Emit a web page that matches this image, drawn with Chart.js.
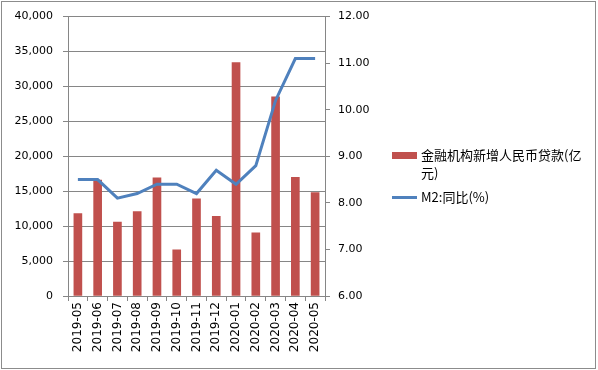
<!DOCTYPE html>
<html>
<head>
<meta charset="utf-8">
<script src="https://cdn.jsdelivr.net/npm/chart.js@4"></script>
<style>
    body { margin: 0; background: #fff; }
    #wrap { position: relative; width: 598px; height: 370px; }
    #frame { position: absolute; left: 1px; top: 1px; width: 593px; height: 366px; border: 1px solid #8c8c8c; pointer-events: none; }
    #legend { position: absolute; left: 392px; top: 146px; font-family: "Noto Sans CJK SC", sans-serif; font-size: 13px; color: #000; }
    .item { display: flex; align-items: flex-start; margin-bottom: 6px; }
    .swatch { width: 25px; flex: none; margin-right: 4px; }
    .txt { width: 165px; line-height: 18px; }
</style>
</head>
<body>
<div id="wrap">
    <canvas id="chart" width="598" height="370"></canvas>
    <div id="frame"></div>
    <div id="legend"></div>
</div>
<script>
const months = ['2019-05', '2019-06', '2019-07', '2019-08', '2019-09', '2019-10', '2019-11',
    '2019-12', '2020-01', '2020-02', '2020-03', '2020-04', '2020-05'];
const loanLabel = '金融机构新增人民币贷款(亿元)';
const loans = [11800, 16600, 10600, 12100, 16900, 6613, 13900, 11400, 33400, 9057, 28500, 17000, 14800];
const m2Label = 'M2:同比(%)';
const m2 = [8.5, 8.5, 8.1, 8.2, 8.4, 8.4, 8.2, 8.7, 8.4, 8.8, 10.2, 11.1, 11.1];

const barColor = '#C0504D';
const lineColor = '#4F81BD';
const gridColor = '#868686';

document.addEventListener('DOMContentLoaded', function() {
    const ctx = document.getElementById('chart').getContext('2d');
    const chart = new Chart(ctx, {
        type: 'bar',
        data: {
            labels: months,
            datasets: [
                {
                    type: 'line',
                    label: m2Label,
                    data: m2,
                    yAxisID: 'y2',
                    borderColor: lineColor,
                    borderWidth: 3,
                    pointRadius: 0,
                    tension: 0,
                    order: 0
                },
                {
                    label: loanLabel,
                    data: loans,
                    yAxisID: 'y',
                    backgroundColor: barColor,
                    barThickness: 8,
                    order: 1
                }
            ]
        },
        options: {
            responsive: false,
            animation: false,
            layout: { padding: { top: 16, left: 0, right: 218, bottom: 0 } },
            plugins: {
                legend: { display: false },
                tooltip: { enabled: false }
            },
            scales: {
                x: {
                    grid: { offset: true, drawOnChartArea: false, drawTicks: true, tickLength: 5, color: gridColor },
                    border: { color: gridColor },
                    ticks: {
                        minRotation: 90, maxRotation: 90, padding: 1,
                        color: '#000', font: { family: 'DejaVu Sans', size: 12 }
                    },
                    afterFit: function(scale) { scale.height = 74; }
                },
                y: {
                    position: 'left',
                    min: 0, max: 40000,
                    grid: { color: gridColor, tickLength: 5 },
                    border: { color: gridColor },
                    ticks: {
                        stepSize: 5000, padding: 10, color: '#000',
                        font: { family: 'DejaVu Sans', size: 11 },
                        callback: function(v) { return v.toLocaleString('en-US'); }
                    },
                    afterFit: function(scale) { scale.width = 68; }
                },
                y2: {
                    position: 'right',
                    min: 6, max: 12,
                    grid: { drawOnChartArea: false, color: gridColor, tickLength: 5 },
                    border: { color: gridColor },
                    ticks: {
                        stepSize: 1, padding: 8, color: '#000',
                        font: { family: 'DejaVu Sans', size: 11 },
                        callback: function(v) { return v.toFixed(2); }
                    },
                    afterFit: function(scale) { scale.width = 55; }
                }
            }
        }
    });

    // HTML legend so the long label can wrap like the original
    const legend = document.getElementById('legend');
    [chart.data.datasets[1], chart.data.datasets[0]].forEach(function(ds) {
        const item = document.createElement('div');
        item.className = 'item';
        const sw = document.createElement('div');
        sw.className = 'swatch';
        if (ds.type === 'line') {
            sw.style.height = '3px';
            sw.style.marginTop = '8px';
            sw.style.background = ds.borderColor;
        } else {
            sw.style.height = '7px';
            sw.style.marginTop = '6px';
            sw.style.background = ds.backgroundColor;
        }
        const txt = document.createElement('div');
        txt.className = 'txt';
        txt.textContent = ds.label;
        item.appendChild(sw);
        item.appendChild(txt);
        legend.appendChild(item);
    });
});
</script>
</body>
</html>
